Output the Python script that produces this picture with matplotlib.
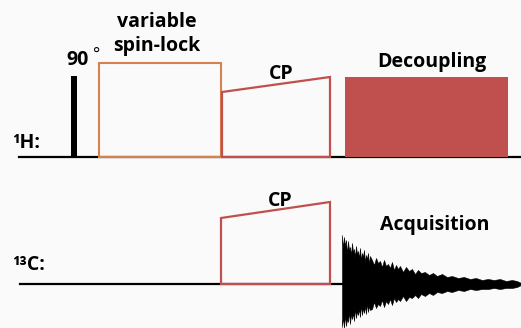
import matplotlib.pyplot as plt
from matplotlib.patches import Rectangle, Polygon

# 脉冲序列 (像素坐标, y 向下)
h_base = 157
c_base = 284

pulse90 = [71, 77, 76]          # x0, x1, top
spinlock = [99, 221, 63]        # x0, x1, top
cp_h = [222, 330, 92, 77]       # x0, x1, top-left, top-right
decoup = [345, 508, 77]
cp_c = [221, 330, 218, 202]

# FID 包络 (相对基线的偏移, 像素)
fid_x = [342, 343, 344, 345, 346, 347, 348, 349, 350, 351, 352, 353, 354, 355, 356,
         357, 358, 359, 360, 361, 362, 363, 364, 365, 366, 367, 368, 369, 370, 372,
         374, 376, 378, 380, 382, 384, 386, 388, 390, 392, 394, 396, 398, 400, 403,
         406, 409, 412, 415, 418, 421, 425, 429, 433, 437, 442, 447, 452, 458, 464,
         470, 476, 482, 488, 494, 500, 506, 512, 517, 521]
fid_upper = [49, 36, 47, 38, 44, 30, 43, 34, 37, 29, 41, 32, 35, 27, 38, 30, 33, 26, 36, 24,
             31, 27, 34, 22, 29, 25, 31, 20, 28, 24, 19, 26, 21, 23, 17, 24, 18, 20, 16, 22,
             14, 19, 15, 18, 12, 17, 13, 15, 10, 14, 11, 12, 9, 11, 8, 10, 7, 8, 6, 7,
             5, 6, 4, 5, 4, 5, 3, 4, 3, 1]
fid_lower = [43, 33, 44, 31, 42, 35, 38, 28, 40, 30, 35, 29, 37, 24, 34, 27, 31, 25, 33, 21,
             31, 24, 29, 22, 30, 19, 28, 22, 26, 25, 18, 24, 20, 22, 16, 23, 17, 20, 15, 21,
             14, 18, 15, 17, 12, 17, 13, 14, 11, 14, 10, 12, 9, 11, 8, 9, 7, 8, 6, 7,
             5, 6, 5, 5, 4, 5, 4, 4, 3, 1]

orange = '#D7814F'
red = '#C0504D'
font = 'Open Sans'

fig = plt.figure(figsize=(5.21, 3.28), dpi=100)
fig.patch.set_facecolor('#fafafa')
ax = fig.add_axes([0, 0, 1, 1])
ax.set_xlim(0, 521)
ax.set_ylim(328, 0)
ax.axis('off')

# 基线
ax.plot([19, 521], [h_base, h_base], color='black', lw=1.6, zorder=1)
ax.plot([20, 521], [c_base, c_base], color='black', lw=1.6, zorder=1)

# 90 度脉冲
ax.add_patch(Rectangle((pulse90[0], pulse90[2]), pulse90[1] - pulse90[0], h_base - pulse90[2],
                       facecolor='black', edgecolor='none', zorder=2))

# spin-lock
ax.add_patch(Rectangle((spinlock[0], spinlock[2]), spinlock[1] - spinlock[0], h_base - spinlock[2],
                       facecolor='none', edgecolor=orange, lw=1.5, zorder=3))

# CP (1H, 13C)
for (x0, x1, t0, t1), base in [(cp_h, h_base), (cp_c, c_base)]:
    ax.add_patch(Polygon([(x0, base), (x0, t0), (x1, t1), (x1, base)], closed=True,
                         facecolor='none', edgecolor=red, lw=1.6, zorder=3))

# decoupling
ax.add_patch(Rectangle((decoup[0], decoup[2]), decoup[1] - decoup[0], h_base - decoup[2],
                       facecolor=red, edgecolor='none', zorder=2))

# FID
up = [c_base - v for v in fid_upper]
lo = [c_base + v for v in fid_lower]
ax.fill_between(fid_x, up, lo, color='black', lw=0.4, zorder=2)

# 文本
kw = dict(fontfamily=font, fontweight='bold', color='black', va='baseline')
ax.text(78, 65, '90', ha='center', fontsize=14, **kw)
ax.text(97, 60, '°', ha='center', fontsize=12, fontfamily=font, color='black', va='baseline')
ax.text(157, 27, 'variable', ha='center', fontsize=14, **kw)
ax.text(157, 51, 'spin-lock', ha='center', fontsize=14, **kw)
ax.text(281, 79, 'CP', ha='center', fontsize=14, **kw)
ax.text(432, 67, 'Decoupling', ha='center', fontsize=14, **kw)
ax.text(280, 206, 'CP', ha='center', fontsize=14, **kw)
ax.text(435, 230, 'Acquisition', ha='center', fontsize=14, **kw)
ax.text(12, 148, '¹H:', ha='left', fontsize=14, **kw)
ax.text(12, 270, '¹³C:', ha='left', fontsize=14, **kw)

plt.savefig('out.png', dpi=100, facecolor=fig.get_facecolor())
plt.close()
